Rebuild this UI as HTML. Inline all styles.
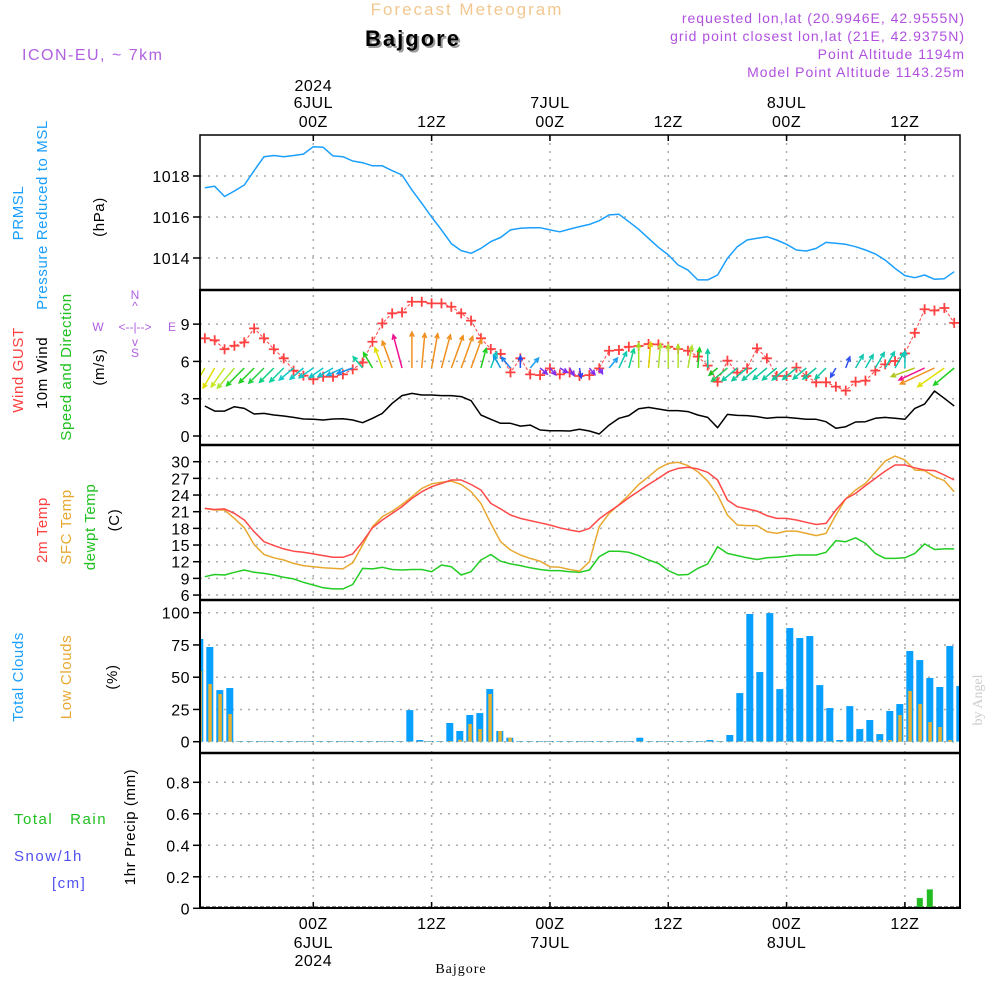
<!DOCTYPE html>
<html><head><meta charset="utf-8">
<style>
html,body{margin:0;padding:0;background:#fff;}
svg{display:block;font-family:"Liberation Sans",sans-serif;}
.tk{font-size:16px;fill:#000;letter-spacing:0.5px}
.lab{font-size:15px;letter-spacing:0.6px}
</style></head>
<body>
<svg id="chart" width="1000" height="1000" viewBox="0 0 1000 1000" xmlns="http://www.w3.org/2000/svg">
<defs><clipPath id="plotclip"><rect x="200" y="135" width="760" height="775"/></clipPath></defs>
<text x="467" y="15" text-anchor="middle" font-size="17" fill="#f2c890" letter-spacing="2">Forecast Meteogram</text>
<text x="415" y="48" text-anchor="middle" font-size="22" font-weight="bold" fill="#999" letter-spacing="2">Bajgore</text>
<text x="413" y="46" text-anchor="middle" font-size="22" font-weight="bold" fill="#000" letter-spacing="2">Bajgore</text>
<text x="22" y="60" font-size="16" fill="#b060e0" letter-spacing="1.5">ICON-EU, ~ 7km</text>
<g font-size="14" fill="#b050e0" text-anchor="end" letter-spacing="1">
<text x="965" y="23">requested lon,lat (20.9946E, 42.9555N)</text>
<text x="965" y="41">grid point closest lon,lat (21E, 42.9375N)</text>
<text x="965" y="59">Point Altitude 1194m</text>
<text x="965" y="77">Model Point Altitude 1143.25m</text>
</g>
<g class="lab">
<text transform="translate(23,213) rotate(-90)" text-anchor="middle" fill="#1a9fff">PRMSL</text>
<text transform="translate(47,215) rotate(-90)" text-anchor="middle" fill="#1a9fff">Pressure Reduced to MSL</text>
<text transform="translate(104,217) rotate(-90)" text-anchor="middle" fill="#000">(hPa)</text>
<text transform="translate(23,370) rotate(-90)" text-anchor="middle" fill="#ff4040">Wind GUST</text>
<text transform="translate(47,373) rotate(-90)" text-anchor="middle" fill="#000">10m Wind</text>
<text transform="translate(71,367) rotate(-90)" text-anchor="middle" fill="#20c020">Speed and Direction</text>
<text transform="translate(104,367) rotate(-90)" text-anchor="middle" fill="#000">(m/s)</text>
<text transform="translate(47,530) rotate(-90)" text-anchor="middle" fill="#ff4040">2m Temp</text>
<text transform="translate(71,527) rotate(-90)" text-anchor="middle" fill="#e8a830">SFC Temp</text>
<text transform="translate(95,527) rotate(-90)" text-anchor="middle" fill="#20c020">dewpt Temp</text>
<text transform="translate(119,520) rotate(-90)" text-anchor="middle" fill="#000">(C)</text>
<text transform="translate(23,677) rotate(-90)" text-anchor="middle" fill="#1a9fff">Total Clouds</text>
<text transform="translate(71,677) rotate(-90)" text-anchor="middle" fill="#e8a830">Low Clouds</text>
<text transform="translate(117,677) rotate(-90)" text-anchor="middle" fill="#000">(%)</text>
<text transform="translate(135,827) rotate(-90)" text-anchor="middle" fill="#000">1hr Precip (mm)</text>
<text x="14" y="824" fill="#20c020" letter-spacing="1.5">Total&#160;&#160;&#160;Rain</text>
<text x="14" y="861" fill="#5050f0" letter-spacing="1.5">Snow/1h</text>
<text x="52" y="888" fill="#5050f0" letter-spacing="1.5">[cm]</text>
</g>
<g font-size="12" fill="#b060e0" text-anchor="middle">
<text x="135" y="299">N</text><text x="135" y="310">^</text>
<text x="98" y="331">W</text><text x="135" y="331">&lt;--|--&gt;</text><text x="172" y="331">E</text>
<text x="135" y="346">v</text><text x="135" y="357">S</text>
</g>
<text transform="translate(982,700) rotate(-90)" text-anchor="middle" font-family="Liberation Serif, serif" font-size="14" fill="#ccc">by Angel</text>
<text x="461" y="973" text-anchor="middle" font-family="Liberation Serif, serif" font-size="14" fill="#000" letter-spacing="1">Bajgore</text>
<g id="grid"></g>
<g id="marks" clip-path="url(#plotclip)"></g>
<g id="frames"></g>
<g id="axes"></g>
</svg>
<script>
// time axis: hours from 00Z 6 JUL
const hours = [];
for (let h = -11; h <= 65; h++) hours.push(h);
const pressure = [1017.43,1017.5,1017.0,1017.27,1017.56,1018.26,1018.94,1019.0,1018.94,1019.0,1019.07,1019.43,1019.4,1018.98,1018.94,1018.73,1018.65,1018.5,1018.5,1018.26,1018.05,1017.32,1016.67,1016.0,1015.37,1014.7,1014.36,1014.23,1014.47,1014.8,1015.0,1015.37,1015.45,1015.48,1015.48,1015.37,1015.28,1015.41,1015.53,
1015.64,1015.82,1016.1,1016.13,1015.77,1015.4,1014.96,1014.52,1014.15,1013.66,1013.41,1012.93,1012.93,1013.17,1013.98,1014.55,1014.88,1014.96,1015.04,1014.88,1014.67,1014.39,1014.34,1014.47,1014.76,1014.72,1014.67,1014.55,1014.39,1014.2,1013.9,1013.5,1013.14,1013.04,1013.17,1012.96,1012.99,1013.33];
const gust = [7.86,7.7,6.98,7.26,7.53,8.66,7.86,6.98,6.25,5.26,4.86,4.56,4.77,4.77,4.96,5.36,5.92,7.58,9.06,9.87,9.95,10.8,10.8,10.67,10.67,10.4,9.87,9.28,7.86,7.0,6.6,5.12,6.25,4.96,4.9,5.44,4.96,5.12,4.83,
4.9,5.44,6.86,6.92,7.18,7.24,7.4,7.37,7.18,7.0,6.86,6.39,5.66,4.37,6.06,5.1,5.44,7.05,6.25,4.83,4.83,5.5,4.83,4.32,4.32,3.97,3.65,4.37,4.45,5.26,5.76,6.03,6.65,8.3,10.2,10.1,10.3,9.1];
const wind10m = [2.41,2.0,2.0,2.36,2.22,1.77,1.82,1.69,1.61,1.5,1.37,1.34,1.29,1.37,1.39,1.29,1.07,1.42,1.82,2.63,3.25,3.43,3.3,3.3,3.25,3.25,3.17,2.84,1.69,1.34,1.02,1.02,0.8,0.88,0.48,0.43,0.43,0.4,0.54,
0.4,0.16,0.88,1.42,1.64,2.2,2.3,2.17,2.04,2.04,1.96,1.69,1.5,0.67,1.74,1.66,1.64,1.56,1.42,1.5,1.5,1.42,1.34,1.34,1.15,0.62,0.75,1.13,1.15,1.42,1.5,1.42,1.34,2.22,2.57,3.62,3.03,2.41];
const windDir = [210,210,215,220,225,225,225,225,225,230,230,235,235,240,245,250,
320,330,340,340,345,0,5,10,15,20,20,20,15,20,330,320,
0,40,130,140,120,150,170,140,150,40,25,15,0,5,5,0,0,10,5,0,
230,230,230,230,230,230,230,230,230,230,230,225,
210,20,30,30,30,30,30,0,250,245,245,235,230];
const windColor = ['#c8dc00','#e0e000','#c8e820','#a8e830','#20d020','#20d020','#20d040','#10d080','#10d0a0','#10c8c8','#10c8c8','#10c8c8','#10c8c8','#10c0d0','#10b0e0','#1090f0',
'#10d0a0','#20d020','#e0e000','#f09020','#f01090','#f09020','#f09020','#f09020','#f09020','#f09020','#f09020','#f09020','#20d020','#10c8c0','#10a0e0','#2080f0',
'#2050f0','#20a0f0','#8030f0','#8030f0','#8030f0','#8030f0','#3040f0','#8030f0','#8030f0','#20a0f0','#10c8b0','#10d090','#a0e020','#e0d000','#b0e030','#b0e030','#b0e030','#b0e030','#20d020','#10c8a0',
'#20c020','#20c860','#10c8a0','#10c8a0','#10c8a0','#10c8a0','#10c8a0','#10c8a0','#10c8a0','#10c8a0','#10c8a0','#10c8a0',
'#3050f0','#3050f0','#10c8b0','#10c8b0','#10c8b0','#10c8b0','#10c8b0','#10c8c0','#b0c820','#f01090','#f09020','#e0e000','#20d020'];
const temp2m = [21.6,21.4,21.5,20.7,19.5,17.4,15.6,14.9,14.3,13.9,13.7,13.4,13.1,12.8,12.8,13.4,15.6,18.1,19.5,20.7,21.9,23.4,24.6,25.5,26.1,26.7,26.7,25.9,24.9,22.5,21.5,20.4,19.8,19.4,19.0,18.6,18.1,17.7,17.4,
18.0,19.7,21.0,22.2,23.5,24.7,25.9,27.0,28.2,28.8,29.0,28.7,28.1,26.7,23.1,21.9,21.5,21.1,20.3,19.8,19.8,19.5,19.1,18.7,18.9,21.3,23.3,24.3,25.7,27.0,28.3,29.4,29.4,28.9,28.5,28.4,27.6,26.7];
const tempSfc = [21.6,21.3,21.3,19.8,18.1,15.1,13.3,12.7,12.3,11.7,11.3,11.1,10.9,10.8,10.7,11.8,15.0,18.3,20.1,21.1,22.3,23.7,25.2,26.0,26.3,26.5,25.9,24.6,22.5,18.9,15.6,14.1,13.2,12.6,12.1,11.1,11.0,10.6,10.3,
12.0,18.3,20.7,22.3,24.0,25.9,27.3,28.8,29.7,29.9,29.3,28.2,26.5,24.0,20.4,18.6,18.5,18.5,17.4,17.1,17.5,17.5,17.1,16.7,17.1,20.4,23.3,24.9,26.1,28.1,30.1,31.0,30.3,28.5,28.4,27.3,26.6,24.6];
const dewpt = [9.3,9.7,9.6,10.1,10.5,10.1,9.9,9.6,9.2,8.9,8.3,7.8,7.3,7.1,7.1,7.9,10.8,10.7,11.0,10.6,10.5,10.6,10.6,10.2,11.4,11.1,9.6,10.2,12.3,13.3,12.1,11.6,11.3,10.9,10.6,10.4,10.4,10.2,10.1,
10.5,12.9,13.9,13.9,13.7,13.1,12.3,11.7,10.4,9.6,9.7,10.8,11.6,14.7,13.5,13.1,12.7,12.4,12.7,12.8,13.0,13.2,13.2,13.2,13.7,15.8,15.6,16.3,15.3,13.5,12.6,12.6,12.7,13.5,15.2,14.2,14.3,14.3];
const totalClouds = [79.6,73.4,40,41.6,
0.5,0.5,0.5,0.5,0.5,0.5,0.5,0.5,0.5,0.5,0.5,0.5,0.5,0.5,0.5,0.5,0.5,
24.5,1.3,0.5,0.5,14.5,8.3,20.7,22.2,40.8,8.3,3.1,
0.5,0.5,0.5,0.5,0.5,0.5,0.5,0.5,0.5,0.5,0.5,0.5,
3.1,0.5,0.5,0.5,0.5,0.5,0.5,
1.3,0.5,5.2,37.7,99,54,99.7,40.8,88.1,80.4,81.9,43.9,26.1,1.3,27.6,9.8,16.8,5.9,23.8,29.2,70.3,63.3,49.4,42.4,74.2,43.2];
const lowClouds = [54.8,44.7,37,21.4,
0.3,0.3,0.3,0.3,0.3,0.3,0.3,0.3,0.3,0.3,0.3,0.3,0.3,0.3,0.3,0.3,0.3,
0.3,0.3,0.3,0.3,
0.5,1.5,13.7,9.8,37,8.3,3.1,
0.3,0.3,0.3,0.3,0.3,0.3,0.3,0.3,0.3,0.3,0.3,0.3,0.3,0.3,0.3,0.3,0.3,0.3,0.3,0.3,0.3,0.3,0.3,0.3,0.3,0.3,0.3,0.3,0.3,0.3,0.3,0.3,0.3,0.3,0.3,0.3,
1.3,1.3,20.7,39.3,29.2,15.2,11.4,1.3,0.5];
const precip = [0,0,0,0,0,0,0,0,0,0,0,0,0,0,0,0,0,0,0,0,0,0,0,0,0,0,0,0,0,0,0,0,0,0,0,0,0,0,0,0,0,0,0,0,0,0,0,0,0,0,0,0,0,0,0,0,0,0,0,0,0,0,0,0,0,0,0,0,0,0,0,0,0.065,0.12,0,0,0];
const pressTicks = [1014,1016,1018];
const windTicks = [0,3,6,9];
const tempTicks = [6,9,12,15,18,21,24,27,30];
const cloudTicks = [0,25,50,75,100];
const precipTicks = [0,0.2,0.4,0.6,0.8];
const timeTicks = [0,12,24,36,48,60];
const timeLabels = ['00Z','12Z','00Z','12Z','00Z','12Z'];
const dayLabels = ['6JUL','','7JUL','','8JUL',''];
const yearLabels = ['2024','','','','',''];

const NS='http://www.w3.org/2000/svg';
const X0=200, X1=960;
function xT(t){return 313.3+9.86*t;}
function xBar(t){return 209.8+(t+10)*10;}
function yP(p){return 176-(p-1018)*20.5;}
function yW(v){return 436-v*12.43;}
function yTmp(v){return 461.7-(v-30)*5.556;}
function yC(v){return 741.7-v*1.29;}
function yR(v){return 908.3-v*157.5;}
const panels=[[135,290],[290,445],[445,600],[600,753],[753,908]];
function el(tag,attrs,parent){const e=document.createElementNS(NS,tag);for(const k in attrs)e.setAttribute(k,attrs[k]);parent.appendChild(e);return e;}
const grid=document.getElementById('grid'), marks=document.getElementById('marks'), frames=document.getElementById('frames'), axes=document.getElementById('axes');

timeTicks.forEach(t=>{
  const l=el('line',{x1:xT(t),x2:xT(t),y1:135,y2:908,stroke:'#aaa','stroke-width':1.5,'stroke-dasharray':'2,6'},grid);
  
  
});
function hgrid(ticks,yf,y0,y1,fmt,name){
  ticks.forEach(v=>{
    const y=yf(v);
    if(y>y0+2&&y<y1-2){
      const g=el('line',{x1:X0,x2:X1,y1:y,y2:y,stroke:'#aaa','stroke-width':1.5,'stroke-dasharray':'2,6'},grid);
      
      
    }
    el('line',{x1:193,x2:200,y1:y,y2:y,stroke:'#000','stroke-width':1.5},axes);
    const tx=el('text',{x:190,y:y+6,'text-anchor':'end',class:'tk'},axes);
    tx.textContent=fmt(v);
    
    
  });
}
hgrid(pressTicks,yP,135,290,v=>String(v),'pressure');
hgrid(windTicks,yW,290,445,v=>String(v),'wind');
hgrid(tempTicks,yTmp,445,600,v=>String(v),'temp');
hgrid(cloudTicks,yC,600,753,v=>String(v),'cloud');
hgrid(precipTicks,yR,753,911,v=>v===0?'0':v.toFixed(1),'precip');

function line(vals,yf,color,name,w,dash){
  const d=vals.map((v,i)=>(i?'L':'M')+xT(hours[i]).toFixed(1)+' '+yf(v).toFixed(1)).join(' ');
  const p=el('path',{d:d,fill:'none',stroke:color,'stroke-width':w||1.5,'stroke-linejoin':'round'},marks);
  if(dash)p.setAttribute('stroke-dasharray',dash);
  
  
}
line(pressure,yP,'#1a9fff','pressure-line');
line(gust,yW,'#ff4040','gust-line',1,'3,2');
gust.forEach((v,i)=>{
  const x=xT(hours[i]),y=yW(v);
  const g=el('path',{d:`M${x-5} ${y}H${x+5}M${x} ${y-5}V${y+5}`,stroke:'#ff4040','stroke-width':1.8},marks);
  
  
});
line(wind10m,yW,'#000','wind-10m-line');
windDir.forEach((d,i)=>{
  const x=xT(hours[i]),y=368;
  const len=5+9*wind10m[i];
  const a=d*Math.PI/180;
  const dx=Math.sin(a),dy=-Math.cos(a);
  const x2=x+dx*len,y2=y+dy*len;
  const hl=5,ha=0.45;
  const b1x=x2-hl*(dx*Math.cos(ha)-dy*Math.sin(ha)), b1y=y2-hl*(dy*Math.cos(ha)+dx*Math.sin(ha));
  const b2x=x2-hl*(dx*Math.cos(-ha)-dy*Math.sin(-ha)), b2y=y2-hl*(dy*Math.cos(-ha)+dx*Math.sin(-ha));
  const p=el('path',{d:`M${x} ${y}L${x2} ${y2}M${b1x} ${b1y}L${x2} ${y2}L${b2x} ${b2y}`,stroke:windColor[i],'stroke-width':1.5,fill:'none'},marks);
  
  
});
line(dewpt,yTmp,'#22cc22','dewpoint-line');
line(tempSfc,yTmp,'#e8a830','sfc-temp-line');
line(temp2m,yTmp,'#ff4848','temp-2m-line');
totalClouds.forEach((v,i)=>{
  const x=xBar(hours[i]);
  const r=el('rect',{x:x-3.5,y:yC(v),width:7,height:yC(0)-yC(v),fill:'#08a0ff'},marks);
  
  
});
lowClouds.forEach((v,i)=>{
  const x=xBar(hours[i]);
  const r=el('rect',{x:x-1.5,y:yC(v),width:3.5,height:yC(0)-yC(v),fill:'#e8b030'},marks);
  
  
});
const z=el('line',{x1:X0,x2:X1,y1:yR(0)-1,y2:yR(0)-1,stroke:'#000','stroke-width':1.5,'stroke-dasharray':'4,2'},marks);


precip.forEach((v,i)=>{
  if(v<=0)return;
  const x=xBar(hours[i]);
  const r=el('rect',{x:x-3,y:yR(v),width:6,height:yR(0)-yR(v),fill:'#22bb22'},marks);
  
  
});
panels.forEach(([a,b],k)=>{
  const r=el('rect',{x:X0,y:a,width:X1-X0,height:b-a,fill:'none',stroke:'#000','stroke-width':k===0?1.5:2},frames);
  
  
});
[290,445,600,753].forEach(y=>{el('line',{x1:X0,x2:X1,y1:y,y2:y,stroke:'#000','stroke-width':2.5},frames);});
timeTicks.forEach((t,i)=>{
  const x=xT(t);
  el('line',{x1:x,x2:x,y1:135,y2:141,stroke:'#000','stroke-width':1.5},axes);
  el('line',{x1:x,x2:x,y1:902,y2:908,stroke:'#000','stroke-width':1.5},axes);
  const top=[[yearLabels[i],91],[dayLabels[i],108],[timeLabels[i],127]];
  top.forEach(([s,y])=>{ if(!s)return; const tx=el('text',{x:x,y:y,'text-anchor':'middle',class:'tk'},axes); tx.textContent=s;
    
    });
  const bot=[[timeLabels[i],929],[dayLabels[i],948],[yearLabels[i],966]];
  bot.forEach(([s,y])=>{ if(!s)return; const tx=el('text',{x:x,y:y,'text-anchor':'middle',class:'tk'},axes); tx.textContent=s;
    
    });
});
</script>
</body></html>
